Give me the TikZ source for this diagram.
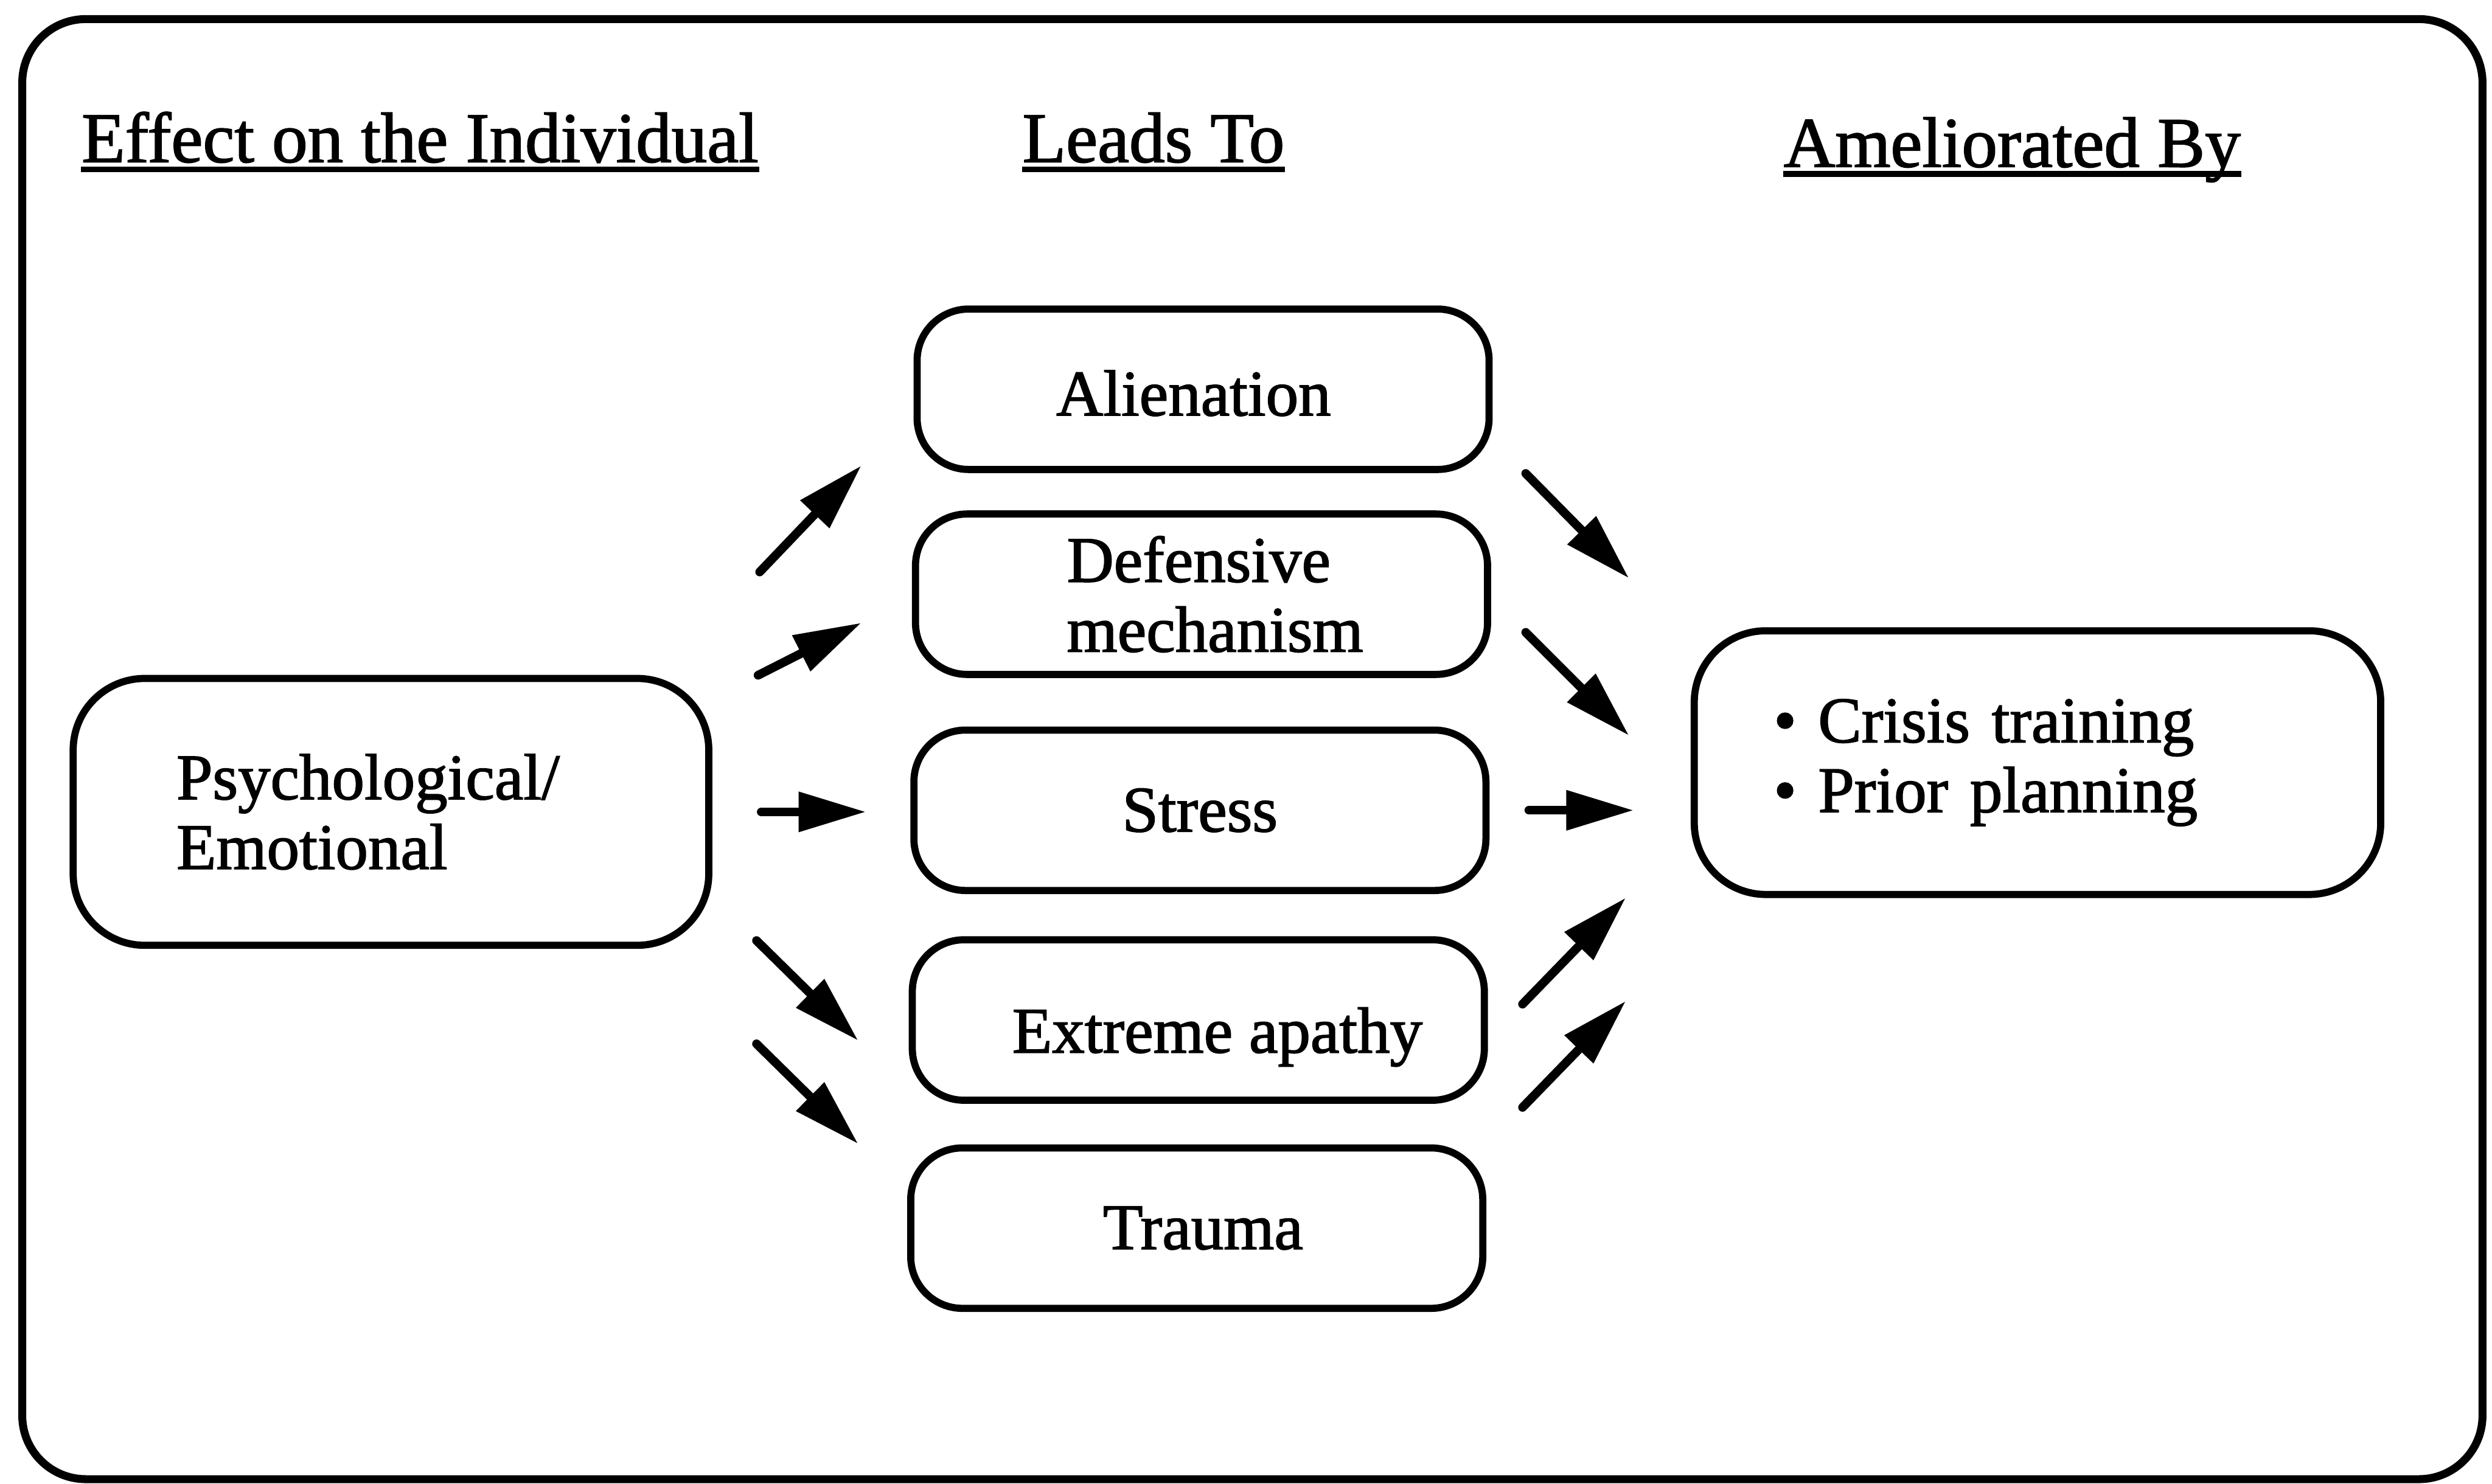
\documentclass[tikz,border=0pt]{standalone}
\usepackage{fontspec}
\setmainfont{Liberation Serif}[FakeBold=1.6]
\usetikzlibrary{arrows.meta}
\begin{document}
\begin{tikzpicture}[x=0.02cm,y=-0.02cm,
  bodyfont/.style={font=\fontsize{23.3}{25}\selectfont},
  midbox/.style={draw, line width=0.09cm, rounded corners=0.65cm,
    minimum width=7.2cm, minimum height=2.02cm, inner sep=0pt, bodyfont},
  bigbox/.style={draw, line width=0.09cm, rounded corners=0.9cm,
    inner sep=0pt, align=left, bodyfont},
  heading/.style={inner sep=0pt, anchor=base west, font=\fontsize{25.5}{30}\selectfont},
  uline/.style={line width=0.07cm},
  arr/.style={line width=0.11cm, line cap=round,
    -{Triangle[length=0.85cm,width=0.48cm]}}
]
\useasboundingbox (0,0) rectangle (1568,934);
% outer frame
\draw[line width=0.1cm, rounded corners=0.8cm] (14,12) rectangle (1562,931);

% column headings
\node[heading] (h1) at (51,102) {Effect on the Individual};
\node[heading] (h2) at (643,102) {Leads To};
\node[heading] (h3) at (1122,105) {Ameliorated By};
\foreach \h in {h1,h2,h3}
  \draw[uline] ([yshift=-0.09cm]\h.base west) -- ([yshift=-0.09cm]\h.base east);

% boxes
\node[bigbox, minimum width=8cm, minimum height=3.36cm, text width=5.4cm]
  (psy) at (246,511) {Psychological/\\Emotional};
\node[midbox, text height=0.66cm, text depth=0pt] (ali) at (757,245) {Alienation\hspace*{0.24cm}};
\node[midbox, align=left] (def) at (756,374)
  {\hspace*{0.34cm}Defensive\\\hspace*{0.34cm}mechanism};
\node[midbox] (str) at (755,510) {Stress};
\node[midbox, text height=0.82cm, text depth=0pt] (apa) at (754,642)
  {\hspace*{0.48cm}Extreme apathy};
\node[midbox] (tra) at (753,773) {\hspace*{0.16cm}Trauma};
\node[bigbox, minimum width=8.64cm, minimum height=3.32cm, text width=6.64cm]
  (ame) at (1282,480) {\textbullet\ Crisis training\\\textbullet\ Prior planning};

% arrow end points
\coordinate (la1) at (478,360); \coordinate (lb1) at (542,293);
\coordinate (la2) at (477,425); \coordinate (lb2) at (542,392);
\coordinate (la3) at (479,511); \coordinate (lb3) at (545,511);
\coordinate (la4) at (476,592); \coordinate (lb4) at (540,655);
\coordinate (la5) at (476,657); \coordinate (lb5) at (540,720);
\coordinate (ra1) at (960,298); \coordinate (rb1) at (1025,364);
\coordinate (ra2) at (960,398); \coordinate (rb2) at (1025,463);
\coordinate (ra3) at (962,510); \coordinate (rb3) at (1028,510);
\coordinate (ra4) at (958,632); \coordinate (rb4) at (1023,565);
\coordinate (ra5) at (958,697); \coordinate (rb5) at (1023,630);

\foreach \i in {1,...,5} {
  \draw[arr] (la\i) -- (lb\i);
  \draw[arr] (ra\i) -- (rb\i);
}
\end{tikzpicture}
\end{document}
